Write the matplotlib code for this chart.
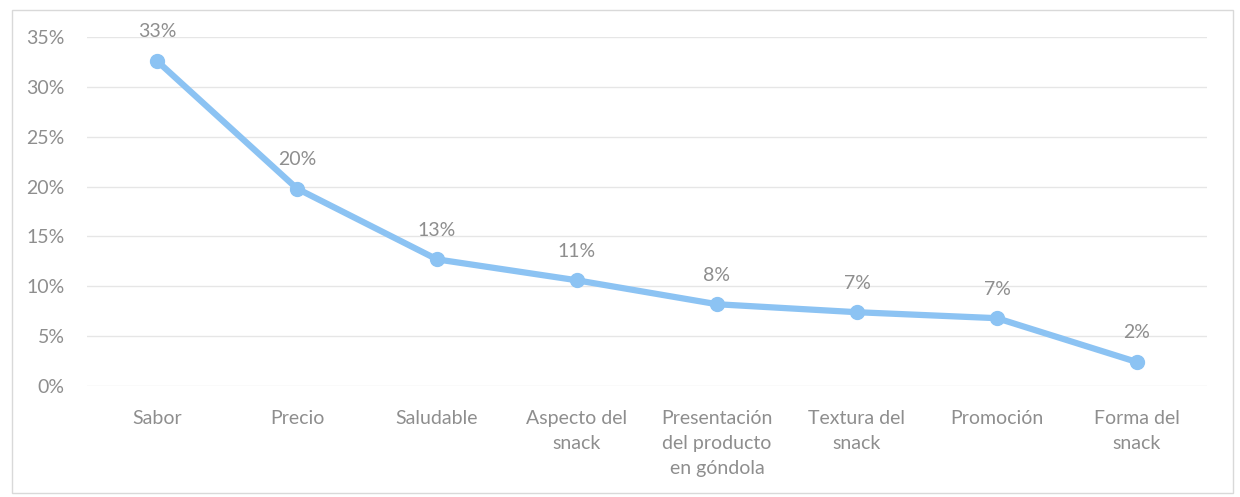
import matplotlib
matplotlib.use("Agg")
import matplotlib.pyplot as plt
from matplotlib.patches import Rectangle
from matplotlib.ticker import PercentFormatter

categories = ["Sabor", "Precio", "Saludable", "Aspecto del\nsnack",
              "Presentación\ndel producto\nen góndola", "Textura del\nsnack",
              "Promoción", "Forma del\nsnack"]
values = [0.326, 0.198, 0.127, 0.106, 0.082, 0.074, 0.068, 0.024]
yticks = [0, 0.05, 0.10, 0.15, 0.20, 0.25, 0.30, 0.35]

plt.rcParams['font.family'] = ['Lato', 'DejaVu Sans']
text_color = "#8e8e8e"
line_color = "#8cc3f3"

W, H = 1240, 497
fig = plt.figure(figsize=(W / 100, H / 100), dpi=100)
fig.patch.set_facecolor("white")

ax = fig.add_axes([87 / W, 1 - 386 / H, (1207 - 87) / W, (386 - 37) / H])
x = list(range(len(categories)))
ax.plot(x, values, color=line_color, lw=4.5, marker="o", ms=10,
        markerfacecolor=line_color, markeredgecolor=line_color, zorder=3,
        solid_capstyle="round")
for xi, v in zip(x, values):
    ax.annotate(f"{v*100:.0f}%", (xi, v), xytext=(0, 21), textcoords="offset points",
                ha="center", va="center", fontsize=14, color=text_color)

ax.set_xlim(-0.5, len(categories) - 0.5)
ax.set_ylim(0, 0.35)
ax.set_yticks(yticks)
ax.yaxis.set_major_formatter(PercentFormatter(1.0, decimals=0))
ax.set_xticks(x)
ax.set_xticklabels(categories, linespacing=1.6)
ax.tick_params(axis="both", length=0, colors=text_color, labelsize=14)
ax.tick_params(axis="y", pad=16)
ax.tick_params(axis="x", pad=17)
ax.grid(axis="y", color="#e6e6e6", lw=1)
ax.set_axisbelow(True)
for s in ax.spines.values():
    s.set_visible(False)

fig.patches.append(Rectangle((12 / W, 1 - 493 / H), (1233 - 12) / W, (493 - 10) / H,
                             transform=fig.transFigure, fill=False,
                             edgecolor="#d9d9d9", lw=1))

fig.savefig("out.png", dpi=100, facecolor="white")
